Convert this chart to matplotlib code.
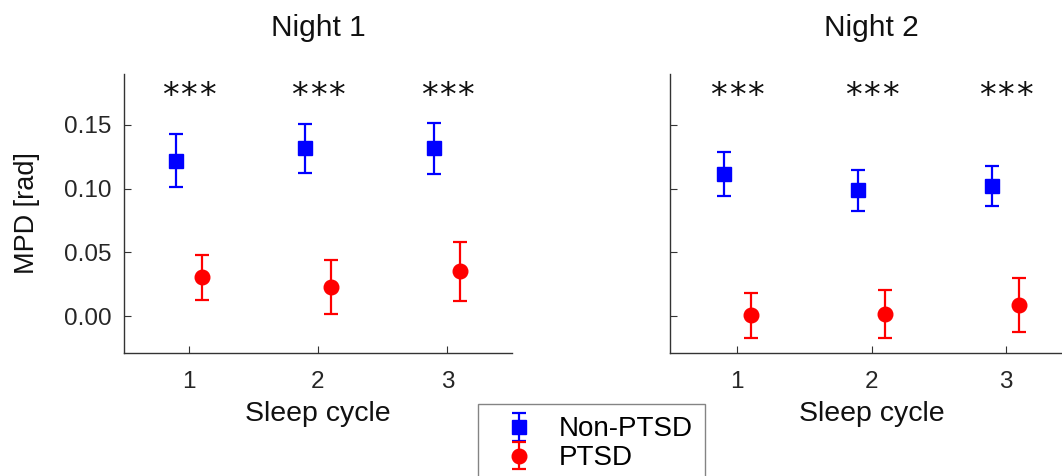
import matplotlib.pyplot as plt
import numpy as np

plt.rcParams["font.family"] = ["Liberation Sans", "DejaVu Sans"]

# ----------------------------
# data
# ----------------------------
cycles = [1, 2, 3]
nights = ["Night 1", "Night 2"]

n1_non_mean = [0.122, 0.1316, 0.1316]
n1_non_err = [0.021, 0.019, 0.020]
n1_ptsd_mean = [0.0306, 0.023, 0.0351]
n1_ptsd_err = [0.0177, 0.021, 0.0233]

n2_non_mean = [0.1116, 0.0986, 0.102]
n2_non_err = [0.0175, 0.016, 0.016]
n2_ptsd_mean = [0.0005, 0.0016, 0.0087]
n2_ptsd_err = [0.0175, 0.019, 0.021]

sig_labels = ["***", "***", "***"]
yticks = [0.00, 0.05, 0.10, 0.15]

W, H = 1062, 476
fig = plt.figure(figsize=(W / 100, H / 100), dpi=100)

ax1 = fig.add_axes([124 / W, 1 - 353 / H, 388 / W, 279 / H])
ax2 = fig.add_axes([670 / W, 1 - 353 / H, 403 / W, 279 / H])

panels = [
    (ax1, n1_non_mean, n1_non_err, n1_ptsd_mean, n1_ptsd_err),
    (ax2, n2_non_mean, n2_non_err, n2_ptsd_mean, n2_ptsd_err),
]

spine_col = "#333333"
txt_col = "#262626"
handles = []
for i, (ax, nm, ne, pm, pe) in enumerate(panels):
    x = np.array(cycles, dtype=float)
    h1 = ax.errorbar(x - 0.1, nm, yerr=ne, fmt="s", color="blue", ms=9.5,
                     capsize=5.3, elinewidth=1.6, capthick=1.6, label="Non-PTSD")
    h2 = ax.errorbar(x + 0.1, pm, yerr=pe, fmt="o", color="red", ms=10.5,
                     capsize=5.3, elinewidth=1.6, capthick=1.6, label="PTSD")
    if i == 0:
        handles = [h1, h2]

    # significance stars, one glyph each so the spacing can be set
    for c, s in zip(cycles, sig_labels):
        for k, ch in enumerate(s):
            ax.annotate(ch, xy=(c, 0.177), xytext=((k - 1) * 13.3, -4),
                        textcoords="offset points", ha="center", va="center",
                        fontsize=24, family="DejaVu Sans", color="#111111")

    ax.set_xlim(0.5, 3.5)
    ax.set_ylim(-0.029, 0.19)
    ax.set_xticks(cycles)
    ax.set_yticks(yticks)
    ax.set_title(nights[i], fontsize=21.5, pad=27, color="#111111")
    ax.set_xlabel("Sleep cycle", fontsize=20.5, labelpad=5.5, color="#111111")
    for sp in ["top", "right"]:
        ax.spines[sp].set_visible(False)
    for sp in ["left", "bottom"]:
        ax.spines[sp].set_color(spine_col)
        ax.spines[sp].set_linewidth(1.0)
    ax.tick_params(direction="in", length=5, color=spine_col, labelsize=17.5,
                   labelcolor=txt_col)
    ax.tick_params(axis="x", pad=13)
    ax.tick_params(axis="y", pad=9)

ax1.set_yticklabels([f"{v:.2f}" for v in yticks])
ax1.set_ylabel("MPD [rad]", fontsize=19.5, labelpad=17, color="#111111")
ax2.set_yticklabels([])

leg = fig.legend(handles, ["Non-PTSD", "PTSD"], loc="upper left",
                 bbox_to_anchor=(478 / W, 1 - 404 / H), fontsize=20,
                 frameon=True, fancybox=False, edgecolor="#666666",
                 borderpad=0.45, handletextpad=0.4, labelspacing=0.1,
                 handlelength=2.05, borderaxespad=0)
leg.get_frame().set_linewidth(1.0)

fig.savefig("out.png", dpi=100)
